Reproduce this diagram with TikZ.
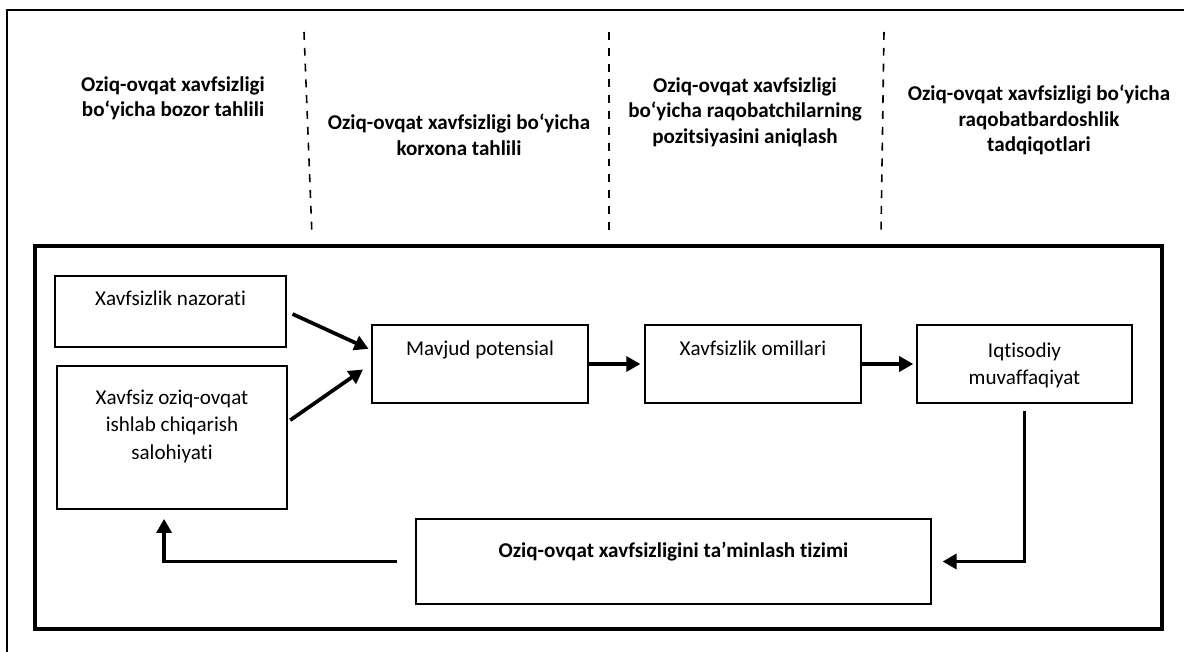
\documentclass[tikz,border=0pt]{standalone}
\usepackage{fontspec}
\setmainfont{Carlito}[Ligatures=NoCommon]
\usetikzlibrary{arrows.meta}

\begin{document}
\begin{tikzpicture}[x=0.02cm, y=-0.02cm,
  head/.style={align=center, font=\bfseries\fontsize{12pt}{14.5pt}\selectfont},
  box/.style={draw, line width=1.25pt, inner sep=0pt, align=flush center, font=\fontsize{12pt}{15pt}\selectfont},
  lift/.style={text height=8pt, text depth=#1},
  arr/.style={-{Triangle[length=8pt,width=8.5pt]}, line width=2.1pt},
  sep/.style={line width=0.9pt, dash pattern=on 4.5pt off 4.5pt}]

\useasboundingbox (0,0) rectangle (1184,652);

% outer frame
\draw[line width=1.6pt] (7,652)--(7,10)--(1184,10);

% headers
\node[head] (bozor) at (173,98) {Oziq-ovqat xavfsizligi\\bo‘yicha bozor tahlili};
\node[head] (korxona) at (459,135) {Oziq-ovqat xavfsizligi bo‘yicha\\korxona tahlili};
\node[head] (raqobat) at (745,112) {Oziq-ovqat xavfsizligi\\bo‘yicha raqobatchilarning\\pozitsiyasini aniqlash};
\node[head] (tadqiq) at (1039,120) {Oziq-ovqat xavfsizligi bo‘yicha\\raqobatbardoshlik\\tadqiqotlari};

\draw[sep] (304,32)--(312,236);
\draw[sep] (609,32)--(609,232);
\draw[sep] (884,32)--(881,232);

% inner frame
\draw[line width=2pt] (35,246) rectangle (1162,629);

\node[box, lift=15pt, minimum width=4.62cm, minimum height=1.42cm, text width=4.5cm] (nazorat) at (170.5,311.5) {Xavfsizlik nazorati};
\node[box, lift=46pt, minimum width=4.6cm, minimum height=2.86cm, text width=4.5cm, font=\fontsize{12pt}{15.8pt}\selectfont] (salohiyat) at (172,437.5) {Xavfsiz oziq-ovqat\\ishlab chiqarish\\salohiyati};
\node[box, lift=18pt, minimum width=4.32cm, minimum height=1.56cm, text width=4.2cm] (mavjud) at (480,364) {Mavjud potensial};
\node[box, lift=18pt, minimum width=4.32cm, minimum height=1.56cm, text width=4.2cm] (omil) at (753,364) {Xavfsizlik omillari};
\node[box, lift=15pt, minimum width=4.3cm, minimum height=1.56cm, text width=4.2cm] (iqtisod) at (1024.5,364) {Iqtisodiy\\muvaffaqiyat};
\node[box, lift=12.5pt, minimum width=10.3cm, minimum height=1.7cm, text width=10cm, font=\bfseries\fontsize{12pt}{15pt}\selectfont] (tizim) at (673.5,561.5) {Oziq-ovqat xavfsizligini ta’minlash tizimi};

\draw[arr, shorten <=3.4pt, shorten >=1.5pt] (nazorat.east) -- ([yshift=8pt]mavjud.west);
\draw[arr, shorten <=1.5pt, shorten >=5.5pt] ([yshift=9pt]salohiyat.east) -- (mavjud.west);
\draw[arr, shorten >=2pt] (mavjud.east) -- (omil.west);
\draw[arr, shorten >=1.5pt] (omil.east) -- (iqtisod.west);
\draw[arr, shorten <=4pt, shorten >=6pt] (iqtisod.south) |- (tizim.east);
\draw[arr, shorten <=10pt, shorten >=5pt] (tizim.west) -| ([xshift=-4.5pt]salohiyat.south);

\end{tikzpicture}
\end{document}
